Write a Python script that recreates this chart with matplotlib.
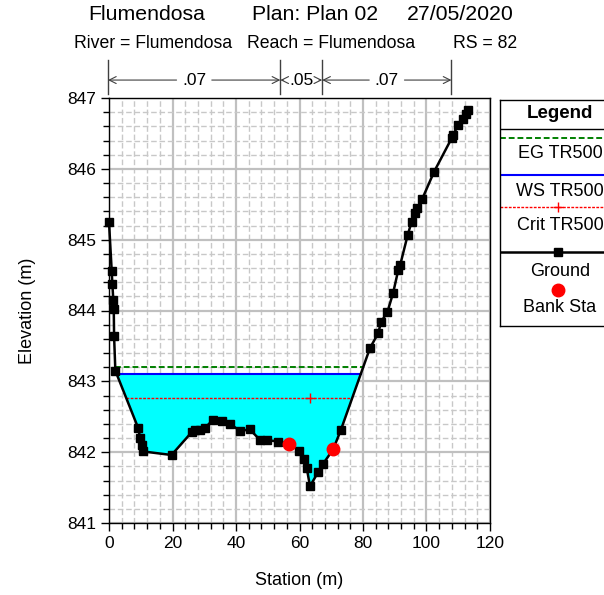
import numpy as np
import matplotlib.pyplot as plt
from matplotlib.ticker import MultipleLocator

plt.rcParams['font.family'] = ['Liberation Sans', 'DejaVu Sans']

# cross section RS 82 - ground survey points
station = [0.0, 0.85, 1.05, 1.35, 1.5, 1.6, 2.0, 9.2, 9.8, 10.3, 10.8, 19.7,
           26.0, 27.1, 28.7, 30.2, 32.8, 35.5, 38.1, 41.3, 44.4, 47.6, 49.7,
           53.3, 56.8, 59.9, 61.4, 62.3, 63.3, 65.9, 67.5, 70.6, 73.0, 82.2,
           84.8, 85.7, 87.7, 89.5, 91.1, 91.7, 94.1, 95.3, 96.4, 97.1, 98.7,
           102.4, 107.9, 108.4, 110.0, 111.4, 112.3, 113.2]
elevation = [845.25, 844.56, 844.38, 844.15, 844.02, 843.64, 843.15, 842.34,
             842.20, 842.10, 842.01, 841.96, 842.28, 842.31, 842.31, 842.34,
             842.46, 842.44, 842.40, 842.30, 842.32, 842.17, 842.17, 842.15,
             842.12, 842.02, 841.90, 841.77, 841.52, 841.72, 841.84, 842.04,
             842.31, 843.47, 843.68, 843.84, 843.98, 844.25, 844.57, 844.64,
             845.07, 845.25, 845.37, 845.44, 845.58, 845.96, 846.43, 846.48,
             846.62, 846.71, 846.78, 846.83]
bank_sta = [56.8, 70.6]
n_values = ['.07', '.05', '.07']

# TR500 profile results
eg_elev = 843.20
ws_elev = 843.11
crit_elev = 842.76

x_ticks = [0, 20, 40, 60, 80, 100, 120]
y_ticks = [841, 842, 843, 844, 845, 846, 847]

W, H = 604, 595


def px(left, top, right, bottom):
    return [left / W, 1 - bottom / H, (right - left) / W, (bottom - top) / H]


def crossings(level):
    # outermost stations where the ground line crosses a level
    x = np.asarray(station)
    z = np.asarray(elevation)
    below = z < level
    i0 = np.argmax(below)
    i1 = len(z) - 1 - np.argmax(below[::-1])
    xl = np.interp(level, [z[i0], z[i0 - 1]], [x[i0], x[i0 - 1]])
    xr = np.interp(level, [z[i1], z[i1 + 1]], [x[i1], x[i1 + 1]])
    return xl, xr


fig = plt.figure(figsize=(W / 100, H / 100), dpi=100)
ax = fig.add_axes(px(109, 98, 490, 523))

z = np.asarray(elevation)
ax.fill_between(station, elevation, ws_elev, where=z <= ws_elev,
                interpolate=True, color='#00ffff', lw=0, zorder=2)

xl, xr = crossings(eg_elev)
ax.plot([xl, xr], [eg_elev, eg_elev], color='#008000', lw=1.4,
        ls=(0, (3, 1.5)), zorder=3)
xl, xr = crossings(ws_elev)
ax.plot([xl, xr], [ws_elev, ws_elev], color='#0000ff', lw=1.5, zorder=3)
xl, xr = crossings(crit_elev)
ax.plot([xl, xr], [crit_elev, crit_elev], color='#ff0000', lw=1.0,
        ls=(0, (2, 1)), zorder=3)
ax.plot(station[int(np.argmin(z))], crit_elev, marker='+', color='#ff0000',
        ms=7, mew=1, zorder=3)

ax.plot(station, elevation, color='black', lw=1.8, marker='s', ms=5.5,
        zorder=4, clip_on=False)
ax.plot(bank_sta, np.interp(bank_sta, station, elevation), 'o',
        color='#ff0000', ms=9, zorder=5)

ax.set_xlim(0, 120)
ax.set_ylim(841, 847)
ax.set_xticks(x_ticks)
ax.set_yticks(y_ticks)
ax.xaxis.set_minor_locator(MultipleLocator(4))
ax.yaxis.set_minor_locator(MultipleLocator(0.2))
ax.set_axisbelow(True)
ax.grid(which='major', color='#c0c0c0', lw=1.6, ls='-')
ax.grid(which='minor', color='#c8c8c8', lw=1.0, ls=(0, (4, 2)))
ax.tick_params(which='major', direction='out', length=6, width=1,
               labelsize=12.5, pad=3)
ax.tick_params(which='minor', direction='out', length=4, width=1)
for s in ax.spines.values():
    s.set_linewidth(1.0)

ax.set_xlabel('Station (m)', fontsize=13)
ax.set_ylabel('Elevation (m)', fontsize=13)
ax.xaxis.set_label_coords(0.5, -0.116)
ax.yaxis.set_label_coords(-0.192, 0.5)

# titles
fig.text(88 / W, 1 - 15 / H, 'Flumendosa', fontsize=15.3, va='center')
fig.text(252 / W, 1 - 15 / H, 'Plan: Plan 02', fontsize=15.3, va='center')
fig.text(407 / W, 1 - 15 / H, '27/05/2020', fontsize=15.3, va='center')
fig.text(74 / W, 1 - 43 / H, 'River = Flumendosa', fontsize=12.7, va='center')
fig.text(247 / W, 1 - 43 / H, 'Reach = Flumendosa', fontsize=12.7, va='center')
fig.text(453 / W, 1 - 43 / H, 'RS = 82', fontsize=12.7, va='center')

# Manning's n strip
hx = fig.add_axes(px(109, 60, 490, 94))
hx.set_xlim(0.33, 125.9)
hx.set_ylim(0, 1)
hx.axis('off')
breaks = [station[0]] + bank_sta + [station[-1]]
for b in breaks:
    hx.plot([b, b], [0, 1], color='#404040', lw=1, clip_on=False)
arrow = dict(arrowstyle='->', color='#404040', lw=0.8, shrinkA=2, shrinkB=0)
for a, b, n in zip(breaks[:-1], breaks[1:], n_values):
    mid = (a + b) / 2
    hx.annotate(n, xy=(a, 0.41), xytext=(mid, 0.41), ha='center',
                va='center', fontsize=12.5, arrowprops=arrow,
                annotation_clip=False)
    hx.annotate(n, xy=(b, 0.41), xytext=(mid, 0.41), ha='center',
                va='center', fontsize=12.5, color='none', arrowprops=arrow,
                annotation_clip=False)

# legend box
lx = fig.add_axes(px(500, 100, 616, 326))
lx.set_xlim(0, 116)
lx.set_ylim(326, 100)
lx.set_xticks([])
lx.set_yticks([])
for s in lx.spines.values():
    s.set_linewidth(1.0)
cx = 60
lx.text(cx, 113, 'Legend', ha='center', va='center', fontsize=13.5,
        fontweight='bold')
lx.plot([0, 116], [129, 129], color='black', lw=1)
lx.plot([0, 116], [138, 138], color='#008000', lw=1.4, ls=(0, (3, 1.5)))
lx.text(cx, 154, 'EG TR500', ha='center', va='center', fontsize=13)
lx.plot([0, 116], [175, 175], color='#0000ff', lw=1.5)
lx.text(cx, 192, 'WS TR500', ha='center', va='center', fontsize=13)
lx.plot([0, 116], [207, 207], color='#ff0000', lw=1.0, ls=(0, (2, 1)))
lx.plot(58, 207, marker='+', color='#ff0000', ms=7, mew=1)
lx.text(cx, 225, 'Crit TR500', ha='center', va='center', fontsize=13)
lx.plot([0, 116], [252, 252], color='black', lw=1.8)
lx.plot(58, 252, marker='s', color='black', ms=5.5)
lx.text(cx, 272, 'Ground', ha='center', va='center', fontsize=13)
lx.plot(58, 290, 'o', color='#ff0000', ms=9)
lx.text(cx, 308, 'Bank Sta', ha='center', va='center', fontsize=13)

fig.savefig('out.png', dpi=100)
